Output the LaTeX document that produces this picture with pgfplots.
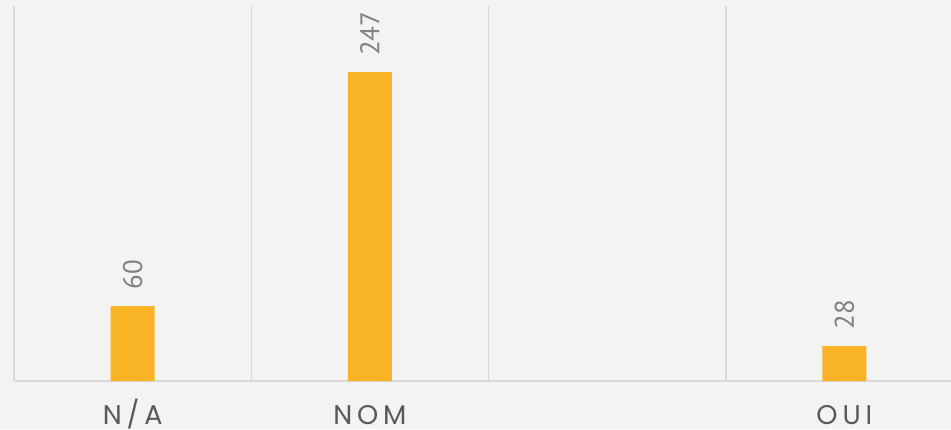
\documentclass[border=0pt]{standalone}
\usepackage{fontspec}
\setmainfont{Poppins}
\newfontfamily\tickfont[LetterSpace=18]{Poppins}
\newfontfamily\labfont{PT Sans}
\usepackage{pgfplots}
\pgfplotsset{compat=1.18}
\definecolor{bg}{HTML}{F3F3F1}
\definecolor{gridc}{HTML}{D9D9D9}
\definecolor{barc}{HTML}{F8B424}
\definecolor{tickc}{HTML}{595959}
\definecolor{labc}{HTML}{808080}
\begin{document}
\begin{tikzpicture}
\fill[bg] (0,0) rectangle (951pt,429pt);
\begin{axis}[
  at={(14pt,48pt)}, anchor=south west,
  scale only axis, width=949pt, height=375pt,
  xmin=-0.5, xmax=3.5, ymin=0, ymax=300,
  axis x line=bottom, axis y line=none,
  x axis line style={draw=gridc, line width=1.5pt, -},
  xtick={0,1,2,3}, xticklabels={N/A,NOM,,OUI},
  minor xtick={-0.5,0.5,1.5,2.5,3.5},
  xminorgrids=true,
  minor grid style={draw=gridc, line width=1.5pt},
  major tick length=0pt, minor tick length=0pt,
  ytick=\empty,
  xticklabel style={font=\tickfont\fontsize{27}{30}\selectfont, text=tickc, anchor=base, inner sep=0pt, text depth=0pt, yshift=-43pt},
  /pgf/number format/assume math mode=true,
  clip=false,
]
\addplot[ybar, bar width=44pt, fill=barc, draw=none,
  nodes near coords,
  every node near coord/.append style={rotate=90, anchor=west, xshift=13pt, yshift=0pt, font=\labfont\fontsize{27}{30}\selectfont, text=labc}]
  coordinates {(0,60) (1,247) (3,28)};
\end{axis}
\pgfresetboundingbox
\path (0,0) rectangle (951pt,429pt);
\end{tikzpicture}
\end{document}
